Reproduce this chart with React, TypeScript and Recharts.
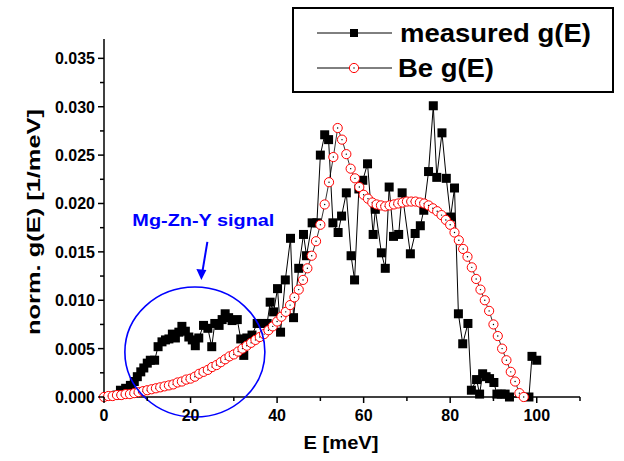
import React from 'react';
import { LineChart, Line, XAxis, YAxis, ReferenceDot, Label } from 'recharts';

const FONT = '"Liberation Sans", Arial, Helvetica, sans-serif';

// measured g(E) (black squares)
const measE = [
  3.0, 3.8, 5.0, 6.1, 7.0, 7.7, 8.5, 9.2, 10.0, 10.7, 11.7, 12.5, 13.4, 14.2, 15.0, 15.8, 16.5, 17.3, 18.0, 18.8,
  19.6, 20.4, 21.1, 21.9, 23.0, 24.0, 24.9, 25.6, 26.6, 27.3, 28.0, 28.8, 29.6, 30.8, 31.6, 32.3, 33.0, 34.2, 35.4, 36.5,
  37.7, 38.4, 39.2, 40.1, 40.8, 41.9, 43.1, 43.8, 45.0, 46.1, 46.8, 48.1, 49.2, 50.0, 51.0, 51.9, 52.9, 54.1, 54.9, 56.0,
  57.1, 57.9, 58.9, 59.8, 60.9, 62.2, 62.7, 64.1, 65.0, 65.9, 66.9, 68.1, 68.9, 70.8, 71.9, 73.1, 73.9, 75.0, 76.1, 76.9,
  78.1, 79.1, 80.1, 81.0, 81.9, 82.9, 84.1, 84.9, 86.1, 86.8, 87.5, 88.3, 89.1, 90.1, 90.8, 91.8, 92.7, 93.7, 98.2, 98.9,
  100.0,
];
const measG = [
  0.0002, 0.0007, 0.0009, 0.0012, 0.0016, 0.0021, 0.0026, 0.003, 0.0035, 0.0038, 0.0038, 0.0052, 0.0057, 0.0059, 0.006, 0.0065, 0.0061, 0.0067, 0.0073, 0.0068,
  0.0062, 0.0059, 0.0053, 0.0061, 0.0074, 0.0071, 0.0052, 0.0076, 0.0074, 0.008, 0.0086, 0.0082, 0.0079, 0.008, 0.006, 0.0043, 0.0061, 0.0064, 0.0076, 0.0076,
  0.0076, 0.0098, 0.0088, 0.0112, 0.0067, 0.0121, 0.0164, 0.0082, 0.0133, 0.0168, 0.0146, 0.018, 0.018, 0.025, 0.0271, 0.0266, 0.018, 0.017, 0.0187, 0.0211,
  0.0146, 0.0121, 0.0215, 0.0224, 0.0241, 0.0168, 0.0194, 0.0149, 0.0133, 0.0217, 0.0166, 0.0168, 0.0211, 0.0148, 0.0169, 0.0177, 0.0193, 0.0233, 0.0301, 0.0227,
  0.0273, 0.0226, 0.0186, 0.0216, 0.0086, 0.0055, 0.0076, 0.0007, 0.0018, 0.0003, 0.0024, 0.0021, 0.0019, 0.0015, 0.0003, 0.0003, 0.0003, 0.0, 0.0, 0.0042,
  0.0038,
];

// Be g(E) (red open circles)
const beE = [
  0, 1, 2, 3, 4, 5, 6, 7, 8, 9, 10, 11, 12, 13, 14, 15, 16, 17, 18, 19,
  20, 21, 22, 23, 24, 25, 26, 27, 28, 29, 30, 31, 32, 33, 34, 35, 36, 37, 38, 39,
  40, 41, 42, 43, 44, 45, 46, 47, 48, 49, 50, 51, 52, 53, 54, 55, 56, 57, 58, 59,
  60, 61, 62, 63, 64, 65, 66, 67, 68, 69, 70, 71, 72, 73, 74, 75, 76, 77, 78, 79,
  80, 81, 82, 83, 84, 85, 86, 87, 88, 89, 90, 91, 92, 93, 94, 95, 96, 97,
];
const beG = [
  0.0, 0.0001, 0.0001, 0.0002, 0.0002, 0.0003, 0.0003, 0.0004, 0.0005, 0.0006, 0.0007, 0.0008, 0.0009, 0.001, 0.0011, 0.0012, 0.0013, 0.0015, 0.0016, 0.0018,
  0.0019, 0.0021, 0.0024, 0.0026, 0.0028, 0.0031, 0.0033, 0.0036, 0.0039, 0.0042, 0.0044, 0.0047, 0.005, 0.0053, 0.0056, 0.0059, 0.0062, 0.0065, 0.0069, 0.0073,
  0.0078, 0.0083, 0.0088, 0.0095, 0.0103, 0.0111, 0.0121, 0.0133, 0.0146, 0.0161, 0.0178, 0.0199, 0.0222, 0.0248, 0.0278, 0.0266, 0.0251, 0.0236, 0.0226, 0.0217,
  0.0209, 0.0205, 0.0201, 0.0199, 0.0198, 0.0197, 0.0198, 0.0199, 0.02, 0.0201, 0.0202, 0.0202, 0.0202, 0.0201, 0.02, 0.0198, 0.0195, 0.0192, 0.0188, 0.0183,
  0.0178, 0.017, 0.0162, 0.0153, 0.0145, 0.0134, 0.0122, 0.0111, 0.01, 0.0089, 0.0075, 0.0063, 0.005, 0.0038, 0.0026, 0.0016, 0.0004, 0.0,
];

const xTicks = [0, 10, 20, 30, 40, 50, 60, 70, 80, 90, 100, 110];
const xLabels = [0, 20, 40, 60, 80, 100];
const yTicks = [0, 0.0025, 0.005, 0.0075, 0.01, 0.0125, 0.015, 0.0175, 0.02, 0.0225, 0.025, 0.0275, 0.03, 0.0325, 0.035];
const yLabels = ['0.000', '0.005', '0.010', '0.015', '0.020', '0.025', '0.030', '0.035'];

const measData = measE.map((E, i) => ({ E, g: measG[i] }));
const beData = beE.map((E, i) => ({ E, g: beG[i] }));

const XTick = (props: any) => {
  const { x, y, payload } = props;
  const v = payload.value;
  const major = xLabels.includes(v);
  return (
    <g>
      <line x1={x} x2={x} y1={y} y2={y + (major ? 6 : 4)} stroke="#000" strokeWidth={1.5} />
      {major && (
        <text x={x} y={y + 24} textAnchor="middle" fontFamily={FONT} fontWeight="bold" fontSize={16} fill="#000">
          {v}
        </text>
      )}
    </g>
  );
};

const YTick = (props: any) => {
  const { x, y, payload } = props;
  const idx = Math.round(payload.value / 0.0025);
  const major = idx % 2 === 0;
  return (
    <g>
      <line x1={x - (major ? 6 : 4)} x2={x} y1={y} y2={y} stroke="#000" strokeWidth={1.5} />
      {major && (
        <text x={x - 9} y={y + 6} textAnchor="end" fontFamily={FONT} fontWeight="bold" fontSize={16} fill="#000">
          {yLabels[idx / 2]}
        </text>
      )}
    </g>
  );
};

const squareDot = (p: any) => (
  <rect key={`m-${p.index}`} x={p.cx - 4.5} y={p.cy - 4.5} width={9} height={9} fill="#000" />
);

const circleDot = (p: any) => (
  <g key={`b-${p.index}`}>
    <circle cx={p.cx} cy={p.cy} r={4.6} fill="#fff" stroke="#ff0000" strokeWidth={1} />
    <circle cx={p.cx} cy={p.cy} r={0.7} fill="#000" />
  </g>
);

const Legend = () => (
  <svg width={322} height={86} style={{ position: 'absolute', left: 292, top: 7 }}>
    <rect x={1} y={1} width={320} height={84} fill="#fff" stroke="#000" strokeWidth={2} />
    <line x1={25} x2={100} y1={26} y2={26} stroke="#000" strokeWidth={1} />
    <rect x={58} y={22} width={8} height={8} fill="#000" />
    <text x={108} y={35} fontFamily={FONT} fontWeight="bold" fontSize={25} textLength={191} lengthAdjust="spacingAndGlyphs">
      measured g(E)
    </text>
    <line x1={25} x2={100} y1={61} y2={61} stroke="#000" strokeWidth={1} />
    <circle cx={62} cy={61} r={4.6} fill="#fff" stroke="#ff0000" strokeWidth={1} />
    <circle cx={62} cy={61} r={0.7} fill="#000" />
    <text x={106} y={70} fontFamily={FONT} fontWeight="bold" fontSize={25} textLength={96} lengthAdjust="spacingAndGlyphs">
      Be g(E)
    </text>
  </svg>
);

export default function App() {
  return (
    <div style={{ position: 'absolute', left: 0, top: 0, width: 624, height: 461, background: '#fff' }}>
      <LineChart width={624} height={461} margin={{ top: 39, right: 44, left: 0, bottom: 0 }}>
        <XAxis
          dataKey="E"
          type="number"
          domain={[0, 110]}
          ticks={xTicks}
          interval={0}
          tickLine={false}
          tickSize={0}
          tickMargin={0}
          tick={<XTick />}
          height={64}
          axisLine={{ stroke: '#000', strokeWidth: 1.5 }}
        >
          <Label
            content={() => (
              <text
                x={341}
                y={449}
                textAnchor="middle"
                fontFamily={FONT}
                fontWeight="bold"
                fontSize={18}
                fill="#000"
                textLength={75}
                lengthAdjust="spacingAndGlyphs"
              >
                E [meV]
              </text>
            )}
          />
        </XAxis>
        <YAxis
          type="number"
          domain={[0, 0.037]}
          ticks={yTicks}
          interval={0}
          tickLine={false}
          tickSize={0}
          tickMargin={0}
          tick={<YTick />}
          width={104}
          axisLine={{ stroke: '#000', strokeWidth: 1.5 }}
        >
          <Label
            content={() => (
              <text
                x={40}
                y={222}
                transform="rotate(-90 40 222)"
                textAnchor="middle"
                fontFamily={FONT}
                fontWeight="bold"
                fontSize={18}
                fill="#000"
                textLength={226}
                lengthAdjust="spacingAndGlyphs"
              >
                norm. g(E) [1/meV]
              </text>
            )}
          />
        </YAxis>
        <Line
          data={measData}
          dataKey="g"
          type="linear"
          stroke="#000"
          strokeWidth={1}
          dot={squareDot}
          activeDot={false}
          isAnimationActive={false}
        />
        <Line
          data={beData}
          dataKey="g"
          type="linear"
          stroke="#000"
          strokeWidth={0.8}
          dot={circleDot}
          activeDot={false}
          isAnimationActive={false}
        />
        <ReferenceDot
          x={21}
          y={0.00465}
          r={0}
          ifOverflow="visible"
          shape={(p: any) => (
            <ellipse cx={p.cx} cy={p.cy} rx={70} ry={65} fill="none" stroke="#0000ff" strokeWidth={1.6} />
          )}
        />
        <ReferenceDot
          x={22.5}
          y={0.0121}
          r={0}
          ifOverflow="visible"
          shape={(p: any) => (
            <g>
              <line x1={p.cx + 6} y1={p.cy - 38} x2={p.cx + 1} y2={p.cy - 8} stroke="#0000ff" strokeWidth={2} />
              <polygon
                points={`${p.cx},${p.cy} ${p.cx - 5},${p.cy - 11} ${p.cx + 5},${p.cy - 10}`}
                fill="#0000ff"
              />
              <text
                x={p.cx + 2}
                y={p.cy - 54}
                textAnchor="middle"
                fontFamily={FONT}
                fontWeight="bold"
                fontSize={16}
                fill="#0000ff"
                textLength={142}
                lengthAdjust="spacingAndGlyphs"
              >
                Mg-Zn-Y signal
              </text>
            </g>
          )}
        />
      </LineChart>
      <Legend />
    </div>
  );
}
